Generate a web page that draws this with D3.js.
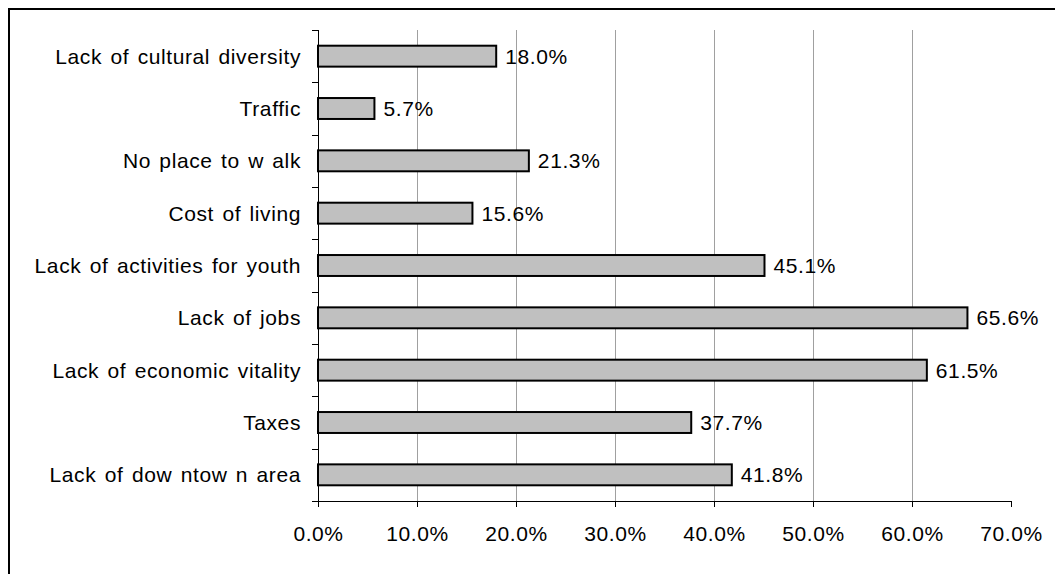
<!DOCTYPE html>
<html>
<head>
<meta charset="utf-8">
<script src="https://cdn.jsdelivr.net/npm/d3@7"></script>
<style>
  body { margin: 0; background: #fff; }
  text { font-family: "Liberation Sans", Arial, sans-serif; fill: #000; letter-spacing: 0.6px; word-spacing: 2px; }
</style>
</head>
<body>
<svg id="chart_svg" width="1055" height="574"></svg>
<script>
// data, top to bottom as drawn
var categories = ["Lack of cultural diversity", "Traffic", "No place to w alk", "Cost of living",
                  "Lack of activities for youth", "Lack of jobs", "Lack of economic vitality",
                  "Taxes", "Lack of dow ntow n area"]
var values = [18.0, 5.7, 21.3, 15.6, 45.1, 65.6, 61.5, 37.7, 41.8]
var xticks = [0, 10, 20, 30, 40, 50, 60, 70]

var svg = d3.select("#chart_svg")
var margin = { top: 30, right: 44, bottom: 73, left: 318 }
var width = 1055, height = 574
var inwidth = width - margin.left - margin.right
var inheight = height - margin.top - margin.bottom
var fontSize = "21px"

// outer frame
svg.append("rect")
    .attr("x", 9).attr("y", 9)
    .attr("width", 1060).attr("height", 600)
    .attr("fill", "none")
    .attr("stroke", "#000")
    .attr("stroke-width", 2)

var g = svg.append("g").attr("transform", `translate(${margin.left},${margin.top})`)

var x = d3.scaleLinear().domain([0, 70]).range([0, inwidth])
var y = d3.scaleBand().domain(categories).range([0, inheight]).paddingInner(0.6).paddingOuter(0.3)

// gridlines
g.selectAll(".grid")
    .data(xticks.filter(d => d > 0 && d < 70))
    .join("line")
    .attr("class", "grid")
    .attr("x1", d => Math.round(x(d)) + 0.5)
    .attr("x2", d => Math.round(x(d)) + 0.5)
    .attr("y1", 0)
    .attr("y2", inheight)
    .attr("stroke", "#a0a0a0")
    .attr("stroke-width", 1)

// bars
g.selectAll(".bar")
    .data(values)
    .join("rect")
    .attr("class", "bar")
    .attr("x", x(0))
    .attr("y", (d, i) => y(categories[i]))
    .attr("width", d => x(d) - x(0))
    .attr("height", y.bandwidth())
    .attr("fill", "#c0c0c0")
    .attr("stroke", "#000")
    .attr("stroke-width", 2)

// value labels
g.selectAll(".val")
    .data(values)
    .join("text")
    .attr("class", "val")
    .attr("x", d => x(d) + 9)
    .attr("y", (d, i) => y(categories[i]) + y.bandwidth() / 2)
    .attr("dy", "0.36em")
    .style("font-size", fontSize)
    .text(d => d.toFixed(1) + "%")

// y axis: ticks at band boundaries
var step = inheight / categories.length
var yax = g.append("g")
yax.append("line")
    .attr("x1", 0.5).attr("x2", 0.5)
    .attr("y1", 0).attr("y2", inheight)
    .attr("stroke", "#000")
yax.selectAll(".ytick")
    .data(d3.range(categories.length + 1))
    .join("line")
    .attr("class", "ytick")
    .attr("x1", -6).attr("x2", 0)
    .attr("y1", d => Math.round(d * step) + 0.5)
    .attr("y2", d => Math.round(d * step) + 0.5)
    .attr("stroke", "#000")
yax.selectAll(".ylabel")
    .data(categories)
    .join("text")
    .attr("class", "ylabel")
    .attr("text-anchor", "end")
    .attr("x", -17)
    .attr("y", d => y(d) + y.bandwidth() / 2)
    .attr("dy", "0.36em")
    .style("font-size", fontSize)
    .text(d => d)

// x axis
var xax = g.append("g")
    .attr("transform", `translate(0,${inheight})`)
    .call(d3.axisBottom(x).tickValues(xticks).tickSize(6).tickPadding(19)
        .tickFormat(d => d.toFixed(1) + "%"))
xax.select(".domain").attr("stroke", "#000")
xax.selectAll(".tick line").attr("stroke", "#000")
xax.selectAll(".tick text")
    .style("font-size", fontSize)
    .style("font-family", '"Liberation Sans", Arial, sans-serif')
</script>
</body>
</html>
